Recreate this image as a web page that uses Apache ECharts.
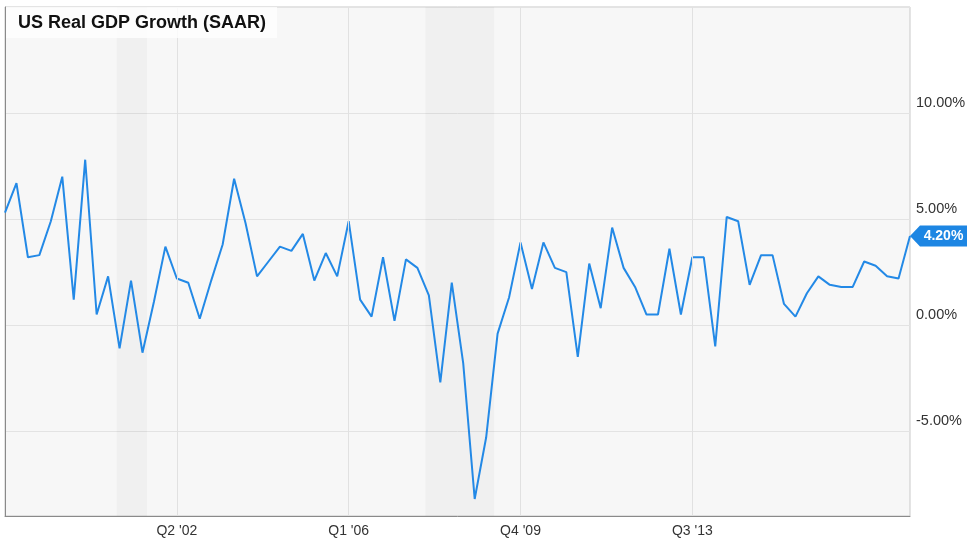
<!DOCTYPE html>
<html>
<head>
<meta charset="utf-8">
<script src="https://cdn.jsdelivr.net/npm/echarts@6/dist/echarts.min.js"></script>
<style>
  html, body { margin: 0; padding: 0; background: #fff; }
  #chart { width: 974px; height: 543px; }
</style>
</head>
<body>
<div id="chart"></div>
<script>
// quarterly real GDP growth, SAAR, Q3 1998 .. Q2 2018
const quarters = [
  "Q3 '98", "Q4 '98",
  "Q1 '99", "Q2 '99", "Q3 '99", "Q4 '99",
  "Q1 '00", "Q2 '00", "Q3 '00", "Q4 '00",
  "Q1 '01", "Q2 '01", "Q3 '01", "Q4 '01",
  "Q1 '02", "Q2 '02", "Q3 '02", "Q4 '02",
  "Q1 '03", "Q2 '03", "Q3 '03", "Q4 '03",
  "Q1 '04", "Q2 '04", "Q3 '04", "Q4 '04",
  "Q1 '05", "Q2 '05", "Q3 '05", "Q4 '05",
  "Q1 '06", "Q2 '06", "Q3 '06", "Q4 '06",
  "Q1 '07", "Q2 '07", "Q3 '07", "Q4 '07",
  "Q1 '08", "Q2 '08", "Q3 '08", "Q4 '08",
  "Q1 '09", "Q2 '09", "Q3 '09", "Q4 '09",
  "Q1 '10", "Q2 '10", "Q3 '10", "Q4 '10",
  "Q1 '11", "Q2 '11", "Q3 '11", "Q4 '11",
  "Q1 '12", "Q2 '12", "Q3 '12", "Q4 '12",
  "Q1 '13", "Q2 '13", "Q3 '13", "Q4 '13",
  "Q1 '14", "Q2 '14", "Q3 '14", "Q4 '14",
  "Q1 '15", "Q2 '15", "Q3 '15", "Q4 '15",
  "Q1 '16", "Q2 '16", "Q3 '16", "Q4 '16",
  "Q1 '17", "Q2 '17", "Q3 '17", "Q4 '17",
  "Q1 '18", "Q2 '18"
];

const growth = [
  5.3, 6.7,
  3.2, 3.3, 4.9, 7.0,
  1.2, 7.8, 0.5, 2.3,
  -1.1, 2.1, -1.3, 1.1,
  3.7, 2.2, 2.0, 0.3,
  2.1, 3.8, 6.9, 4.8,
  2.3, 3.0, 3.7, 3.5,
  4.3, 2.1, 3.4, 2.3,
  4.9, 1.2, 0.4, 3.2,
  0.2, 3.1, 2.7, 1.4,
  -2.7, 2.0, -1.8, -8.2,
  -5.3, -0.4, 1.3, 3.9,
  1.7, 3.9, 2.7, 2.5,
  -1.5, 2.9, 0.8, 4.6,
  2.7, 1.8, 0.5, 0.5,
  3.6, 0.5, 3.2, 3.2,
  -1.0, 5.1, 4.9, 1.9,
  3.3, 3.3, 1.0, 0.4,
  1.5, 2.3, 1.9, 1.8,
  1.8, 3.0, 2.8, 2.3,
  2.2, 4.2
];

// x positions (quarter index) that carry a label + gridline
const labelTicks = [15, 30, 45, 60];

// recession bands, in quarter index units
const recessions = [[9.75, 12.4], [36.7, 42.7]];

const FONT = 'Liberation Sans, Arial, sans-serif';
const lineColor = '#2389e6';

const points = growth.map((v, i) => [i, v]);
const lastIdx = growth.length - 1;
const lastVal = growth[lastIdx];

const chart = echarts.init(document.getElementById('chart'));

chart.setOption({
  animation: false,
  title: {
    text: 'US Real GDP Growth (SAAR)',
    left: 6,
    top: 7,
    padding: [7, 11, 6, 12],
    backgroundColor: 'rgba(255,255,255,0.78)',
    textStyle: { fontFamily: FONT, fontSize: 18, fontWeight: 'bold', color: '#111' }
  },
  grid: {
    left: 5, right: 64, top: 7, bottom: 27,
    show: true,
    backgroundColor: '#f7f7f7',
    borderColor: '#c9c9c9',
    borderWidth: 1
  },
  xAxis: {
    type: 'value',
    min: 0,
    max: lastIdx,
    interval: 15,
    axisLine: { show: true, onZero: false, lineStyle: { color: '#8a8a8a' } },
    axisTick: { show: false },
    splitLine: { show: false },
    axisLabel: {
      margin: 8,
      color: '#333',
      fontFamily: FONT,
      fontSize: 14,
      formatter: v => labelTicks.includes(v) ? quarters[v] : ''
    }
  },
  yAxis: {
    type: 'value',
    position: 'right',
    min: -9,
    max: 15,
    splitNumber: 5,
    axisLine: { show: true, lineStyle: { color: '#8a8a8a' } },
    axisTick: { show: false },
    splitLine: { lineStyle: { color: '#e3e3e3' } },
    axisLabel: {
      showMinLabel: false,
      showMaxLabel: false,
      margin: 6,
      color: '#333',
      fontFamily: FONT,
      fontSize: 14.5,
      verticalAlign: 'bottom',
      padding: [0, 0, 3, 0],
      formatter: v => v.toFixed(2) + '%'
    }
  },
  series: [
    {
      // background layer: recession bands and vertical gridlines
      type: 'line',
      z: 1,
      data: points,
      showSymbol: false,
      silent: true,
      lineStyle: { width: 0, opacity: 0 },
      markArea: {
        silent: true,
        itemStyle: { color: 'rgba(0,0,0,0.028)' },
        data: recessions.map(r => [{ xAxis: r[0] }, { xAxis: r[1] }])
      },
      markLine: {
        silent: true,
        symbol: 'none',
        label: { show: false },
        lineStyle: { color: '#e1e1e1', width: 1, type: 'solid' },
        data: labelTicks.map(t => ({ xAxis: t }))
      }
    },
    {
      type: 'line',
      z: 3,
      data: points,
      showSymbol: false,
      lineStyle: { color: lineColor, width: 2 },
      markPoint: {
        z: 10,
        silent: true,
        symbol: 'path://M0,10.5L10,0L57,0L57,21L10,21Z',
        symbolSize: [57, 21],
        symbolOffset: [28.5, 0],
        itemStyle: { color: '#1d86e3' },
        label: {
          show: true,
          position: 'inside',
          offset: [5, 0],
          color: '#fff',
          fontFamily: FONT,
          fontSize: 14,
          fontWeight: 'bold',
          formatter: lastVal.toFixed(2) + '%'
        },
        data: [{ coord: [lastIdx, lastVal] }]
      }
    }
  ]
});
</script>
</body>
</html>
